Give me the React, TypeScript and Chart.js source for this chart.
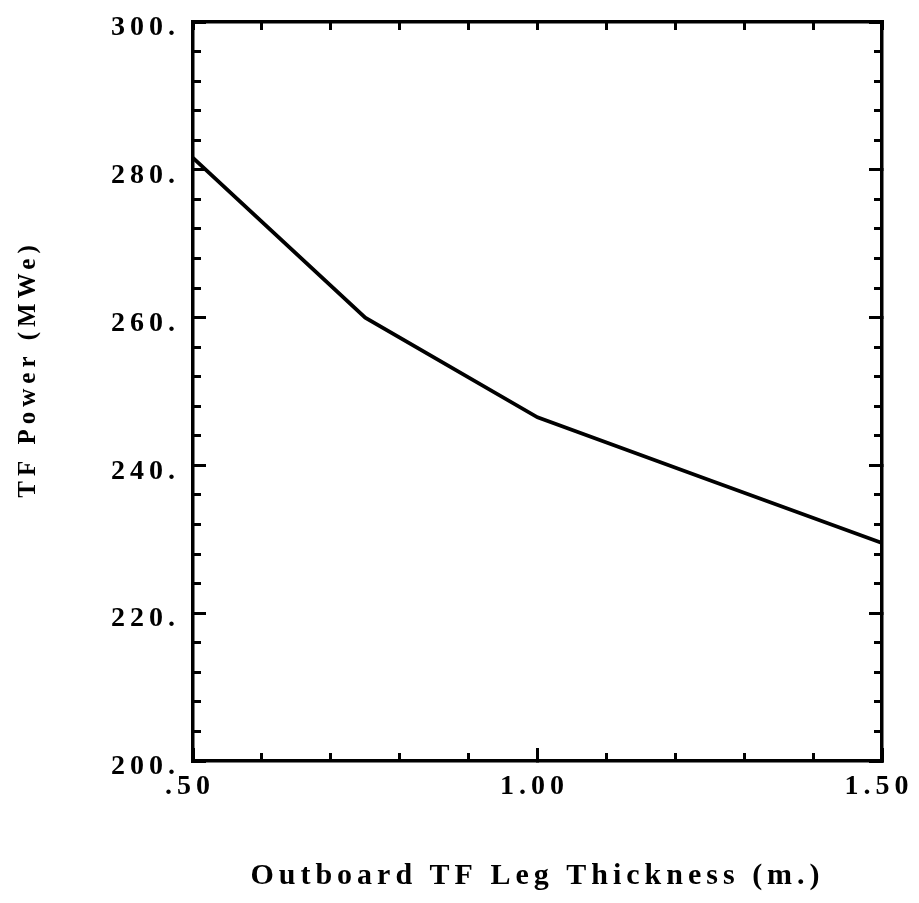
import { useEffect, useRef } from 'react';
import { Chart, registerables } from 'chart.js';

Chart.register(...registerables);

// TF power versus outboard TF leg thickness
const thickness = [0.5, 0.75, 1.0, 1.25, 1.5];
const tfPower = [281.6, 260.0, 246.5, 238.0, 229.5];

const xTickValues = [0.5, 1.0, 1.5];
const xTickLabels = ['.50', '1.00', '1.50'];
const yTickValues = [200, 220, 240, 260, 280, 300];
const yTickLabels = ['200.', '220.', '240.', '260.', '280.', '300.'];

const xTitle = 'Outboard TF Leg Thickness (m.)';
const yTitle = '    TF Power (MWe)';

const FAMILY = '"Liberation Serif", "Times New Roman", serif';
const INK = '#000';

// Fix an axis box to a set thickness and drop the label overhang padding
const fixBox = (size: number, horizontal: boolean) => (s: any) => {
  if (horizontal) s.height = size;
  else s.width = size;
  s.paddingLeft = 0;
  s.paddingRight = 0;
  s.paddingTop = 0;
  s.paddingBottom = 0;
};

const setTicks = (values: number[]) => (s: any) => {
  s.ticks = values.map((value) => ({ value }));
};

const tickGrid = (length: number) => ({
  drawOnChartArea: false,
  drawTicks: true,
  tickLength: length,
  tickWidth: 3,
  tickColor: INK,
});

const frame = { display: true, width: 3.5, color: INK };
const noFrame = { display: false };

const letterSpacing = {
  id: 'letterSpacing',
  beforeDraw(chart: any) {
    chart.ctx.letterSpacing = '5px';
  },
};

export default function App() {
  const ref = useRef<HTMLCanvasElement | null>(null);

  useEffect(() => {
    if (!ref.current) return;
    const chart = new Chart(ref.current, {
      type: 'line',
      data: {
        datasets: [
          {
            data: thickness.map((x, i) => ({ x, y: tfPower[i] })),
            borderColor: INK,
            borderWidth: 3.8,
            pointRadius: 0,
            fill: false,
            tension: 0,
          },
        ],
      },
      options: {
        responsive: false,
        animation: false,
        layout: { padding: { top: 14, right: 29, bottom: 0, left: 0 } },
        plugins: { legend: { display: false }, tooltip: { enabled: false } },
        scales: {
          x: {
            type: 'linear',
            position: 'bottom',
            weight: 1,
            min: 0.5,
            max: 1.5,
            afterBuildTicks: setTicks(xTickValues),
            afterFit: fixBox(134, true),
            grid: tickGrid(-13),
            border: frame,
            ticks: {
              autoSkip: false,
              maxRotation: 0,
              padding: 22,
              labelOffset: -3,
              color: INK,
              font: { family: FAMILY, size: 28, weight: 'bold' },
              callback: (v: any) => xTickLabels[xTickValues.indexOf(Number(v))] ?? '',
            },
            title: {
              display: true,
              text: xTitle,
              color: INK,
              font: { family: FAMILY, size: 30, weight: 'bold' },
              padding: { top: 0, bottom: 1 },
            },
          },
          xMinor: {
            type: 'linear',
            position: 'bottom',
            weight: 0,
            min: 0.5,
            max: 1.5,
            afterFit: fixBox(0, true),
            grid: tickGrid(-8),
            border: noFrame,
            ticks: { display: false, stepSize: 0.1 },
          },
          xTop: {
            type: 'linear',
            position: 'top',
            weight: 0,
            min: 0.5,
            max: 1.5,
            afterFit: fixBox(0, true),
            grid: tickGrid(-8),
            border: frame,
            ticks: { display: false, stepSize: 0.1 },
          },
          y: {
            type: 'linear',
            position: 'left',
            weight: 1,
            min: 200,
            max: 300,
            afterBuildTicks: setTicks(yTickValues),
            afterFit: fixBox(185, false),
            grid: tickGrid(-13),
            border: frame,
            ticks: {
              autoSkip: false,
              padding: 26,
              labelOffset: 6,
              color: INK,
              font: { family: FAMILY, size: 28, weight: 'bold' },
              callback: (v: any) => yTickLabels[yTickValues.indexOf(Number(v))] ?? '',
            },
            title: {
              display: true,
              text: yTitle,
              color: INK,
              font: { family: FAMILY, size: 25, weight: 'bold' },
              padding: { top: 6, bottom: 0 },
            },
          },
          yMinor: {
            type: 'linear',
            position: 'left',
            weight: 0,
            min: 200,
            max: 300,
            afterFit: fixBox(0, false),
            grid: tickGrid(-8),
            border: noFrame,
            ticks: { display: false, stepSize: 4 },
          },
          yRight: {
            type: 'linear',
            position: 'right',
            weight: 0,
            min: 200,
            max: 300,
            afterBuildTicks: setTicks(yTickValues),
            afterFit: fixBox(0, false),
            grid: tickGrid(-13),
            border: frame,
            ticks: { display: false },
          },
          yRightMinor: {
            type: 'linear',
            position: 'right',
            weight: 0,
            min: 200,
            max: 300,
            afterFit: fixBox(0, false),
            grid: tickGrid(-8),
            border: noFrame,
            ticks: { display: false, stepSize: 4 },
          },
        },
      } as any,
      plugins: [letterSpacing],
    });
    return () => chart.destroy();
  }, []);

  return (
    <div style={{ width: 903, height: 887 }}>
      <canvas ref={ref} width={903} height={887} style={{ display: 'block' }} />
    </div>
  );
}
